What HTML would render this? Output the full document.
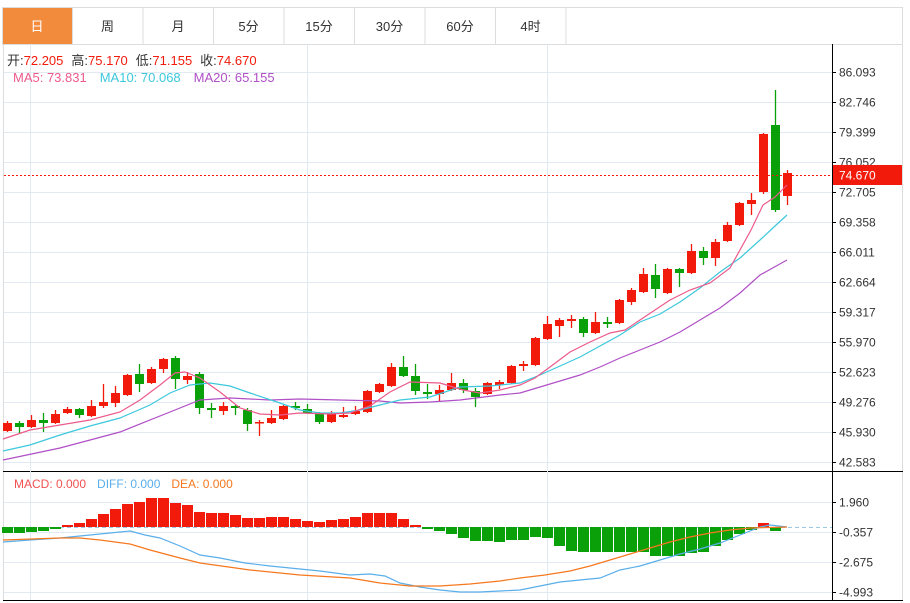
<!DOCTYPE html>
<html><head><meta charset="utf-8"><style>
body{margin:0;background:#fff;width:910px;height:603px;overflow:hidden;font-family:"Liberation Sans","Noto Sans CJK SC",sans-serif;}
svg{position:absolute;left:0;top:0}
</style></head><body>
<svg id="s" width="910" height="603" xmlns="http://www.w3.org/2000/svg" font-family="Liberation Sans, Noto Sans CJK SC, sans-serif"></svg>
<script>
var s=document.getElementById('s'),h='';
// tab bar
h+='<rect x="2.5" y="7.5" width="900" height="37" fill="#fff" stroke="#ddd"/>';
var tabs=['日','周','月','5分','15分','30分','60分','4时'];
for(var i=0;i<8;i++){var x=2+i*70.5;
 if(i==0)h+='<rect x="3" y="8" width="70" height="36" fill="#f28b3c"/>';
 h+='<line x1="'+(x+70.5)+'" y1="8" x2="'+(x+70.5)+'" y2="44" stroke="#ddd"/>';
 h+='<text x="'+(x+35)+'" y="31" font-size="13" text-anchor="middle" fill="'+(i==0?'#fff':'#333')+'">'+tabs[i]+'</text>';}
// frame
h+='<line x1="3.5" y1="44" x2="3.5" y2="601" stroke="#ddd"/><line x1="902.5" y1="44" x2="902.5" y2="601" stroke="#ddd"/>';
h+='<line x1="3" y1="600.5" x2="903" y2="600.5" stroke="#000"/><line x1="3" y1="471.5" x2="903" y2="471.5" stroke="#000"/>';
h+='<line x1="832.5" y1="44" x2="832.5" y2="601" stroke="#000"/>';
// grids
var py=['86.093','82.746','79.399','76.052','72.705','69.358','66.011','62.664','59.317','55.970','52.623','49.276','45.930','42.583'];
for(var i=0;i<14;i++){var y=72+i*30;h+='<line x1="4" y1="'+(y+.5)+'" x2="832" y2="'+(y+.5)+'" stroke="#e1eaf2"/><line x1="832" y1="'+(y+.5)+'" x2="836" y2="'+(y+.5)+'" stroke="#000"/><text x="839" y="'+(y+4.5)+'" font-size="12" fill="#333">'+py[i]+'</text>';}
var my=[[502,'1.960'],[532,'-0.357'],[562,'-2.675'],[592,'-4.993']];
my.forEach(function(m){h+='<line x1="4" y1="'+(m[0]+.5)+'" x2="832" y2="'+(m[0]+.5)+'" stroke="#e1eaf2"/><line x1="832" y1="'+(m[0]+.5)+'" x2="836" y2="'+(m[0]+.5)+'" stroke="#000"/><text x="839" y="'+(m[0]+4.5)+'" font-size="12" fill="#333">'+m[1]+'</text>';});
[30,307,547].forEach(function(x){h+='<line x1="'+(x+.5)+'" y1="44" x2="'+(x+.5)+'" y2="600" stroke="#e1eaf2"/>';});
// candles [top,bottom,high,low,color]
var C=[[423,431,421,432,'r'],[423,427,421,433,'g'],[420,427,415,428,'r'],[420,423,413,432,'g'],[414,423,410,424,'r'],[409,413,407,414,'r'],[409,415,408,418,'g'],[406,416,400,417,'r'],[402,406,384,408,'r'],[393,403,386,407,'r'],
[375,395,374,396,'r'],[374,384,364,392,'g'],[369,383,367,384,'r'],[359,369,358,373,'r'],[358,379,356,389,'g'],[376,380,372,384,'r'],[374,408,372,414,'g'],[408,410,403,418,'g'],[406,411,402,415,'r'],[406,408,405,415,'g'],
[410,424,408,431,'g'],[422,423,420,436,'r'],[418,423,410,424,'r'],[406,419,405,420,'r'],[406,408,402,410,'g'],[409,413,404,414,'g'],[413,422,412,424,'g'],[413,422,411,423,'r'],[415,417,407,418,'r'],[411,414,406,415,'r'],
[391,412,390,413,'r'],[384,392,383,393,'r'],[367,386,363,387,'r'],[367,376,356,377,'g'],[376,391,364,395,'g'],[392,394,384,399,'g'],[390,394,385,402,'r'],[383,390,373,391,'r'],[383,390,379,393,'g'],[391,397,388,407,'g'],
[383,394,382,395,'r'],[382,385,380,389,'r'],[366,383,365,384,'r'],[364,366,361,371,'r'],[338,365,337,366,'r'],[324,339,316,340,'r'],[320,326,318,337,'r'],[319,321,315,328,'r'],[319,333,317,337,'g'],[322,333,312,334,'r'],
[322,324,317,328,'g'],[300,323,299,324,'r'],[290,302,288,305,'r'],[274,292,268,293,'r'],[275,289,264,298,'g'],[269,293,268,294,'r'],[269,273,268,287,'g'],[251,273,244,274,'r'],[251,258,247,265,'g'],[242,258,239,266,'r'],
[225,241,222,242,'r'],[203,225,202,226,'r'],[200,204,193,215,'r'],[134,192,133,194,'r'],[125,210,90,212,'g'],[173,196,170,205,'r']];
C.forEach(function(c,i){var x=7+12*i,col=c[4]=='r'?'#f21a0b':'#0aa00a';
 h+='<line x1="'+(x+.5)+'" y1="'+c[2]+'" x2="'+(x+.5)+'" y2="'+c[3]+'" stroke="'+col+'" stroke-width="1.3"/>';
 h+='<rect x="'+(x-4)+'" y="'+c[0]+'" width="9" height="'+Math.max(1.5,c[1]-c[0])+'" fill="'+col+'"/>';});
function pl(p,col){return '<polyline fill="none" stroke="'+col+'" stroke-width="1.2" points="'+p+'"/>';}
h+=pl('3,460 60,448 120,432 170,412 200,400 230,398 270,400 300,399 340,400 380,401 400,403 430,402 460,400 500,395 520,393 540,387 560,381 580,375 600,367 620,358 640,350 660,342 680,332 700,320 720,308 740,293 760,275 787,260','#b04fc6');
h+=pl('3,451 30,445 60,435 90,426 120,418 150,405 170,393 190,385 210,383 230,386 250,393 280,403 300,410 320,413 340,413 360,410 380,405 400,400 430,397 460,387 490,386 520,383 540,375 560,366 580,357 600,346 620,335 640,322 660,314 680,302 700,288 720,272 740,258 760,240 775,226 787,215','#3cc8dc');
h+=pl('3,439 30,430 60,425 90,420 120,412 140,400 160,385 175,373 185,372 200,378 220,392 240,408 260,414 280,415 300,413 330,414 350,413 370,406 390,392 410,382 440,383 463,390 480,393 500,390 520,385 535,378 550,367 570,352 590,342 610,333 625,330 640,320 655,310 670,300 690,290 710,283 730,268 751,230 763,205 775,197 787,185','#ec5a8c');
// price line
h+='<line x1="4" y1="175.5" x2="832" y2="175.5" stroke="#f21a0b" stroke-dasharray="2,2"/>';
h+='<rect x="833" y="165" width="69" height="20" fill="#f21a0b"/><text x="839" y="179.5" font-size="12" fill="#fff">74.670</text>';
// MACD
h+='<line x1="4" y1="527.5" x2="832" y2="527.5" stroke="#9cc8e8" stroke-dasharray="4,3"/>';
var M=[533,533,532,531,529,525,523,519,514,509,504,502,498,498,503,505,512,513,513,515,518,518,517,517,519,521,522,520,519,517,513,513,513,519,525,529,531,534,538,541,541,542,540,540,537,538,546,551,552,552,552,552,552,552,556,556,556,553,552,546,540,534,530,523,531,527];
M.forEach(function(v,i){var x=7+12*i;var col=v<527?'#f21a0b':'#0aa00a';if(i<5)col='#0aa00a';
 var t=Math.min(v,527),b=Math.max(v,527);if(b-t<1)return;h+='<rect x="'+(x-5)+'" y="'+t+'" width="11" height="'+(b-t)+'" fill="'+col+'"/>';});
h+=pl('3,542 30,540 60,538 90,535 120,532 130,531 145,535 160,538 180,546 200,555 220,558 245,563 270,566 300,569 320,571 350,575 370,574 385,576 400,583 420,587 440,590 460,592 480,592 500,591 520,590 545,585 560,582 580,580 600,578 620,570 640,566 660,560 680,554 700,549 720,543 740,535 760,527 770,525 787,527','#5aaeea');
h+=pl('3,540 60,538 80,538 100,540 130,544 150,550 180,558 200,563 250,570 300,575 350,578 380,583 410,586 440,586 470,584 500,581 520,578 545,575 570,571 590,566 610,560 630,554 650,548 670,542 690,537 710,533 730,530 750,528 787,527','#f5781e');
// header text
h+='<text x="7" y="65" font-size="13"><tspan fill="#333">开:</tspan><tspan fill="#f21a0b">72.205</tspan><tspan fill="#333" dx="8">高:</tspan><tspan fill="#f21a0b">75.170</tspan><tspan fill="#333" dx="8">低:</tspan><tspan fill="#f21a0b">71.155</tspan><tspan fill="#333" dx="8">收:</tspan><tspan fill="#f21a0b">74.670</tspan></text>';
h+='<text x="13" y="82" font-size="13"><tspan fill="#ec5a8c">MA5: 73.831</tspan><tspan fill="#3cc8dc" dx="13">MA10: 70.068</tspan><tspan fill="#b04fc6" dx="13">MA20: 65.155</tspan></text>';
h+='<text x="14" y="488" font-size="12"><tspan fill="#f05050">MACD: 0.000</tspan><tspan fill="#5aaeea" dx="11">DIFF: 0.000</tspan><tspan fill="#f5781e" dx="11">DEA: 0.000</tspan></text>';
s.innerHTML=h;
</script>
</body></html>
